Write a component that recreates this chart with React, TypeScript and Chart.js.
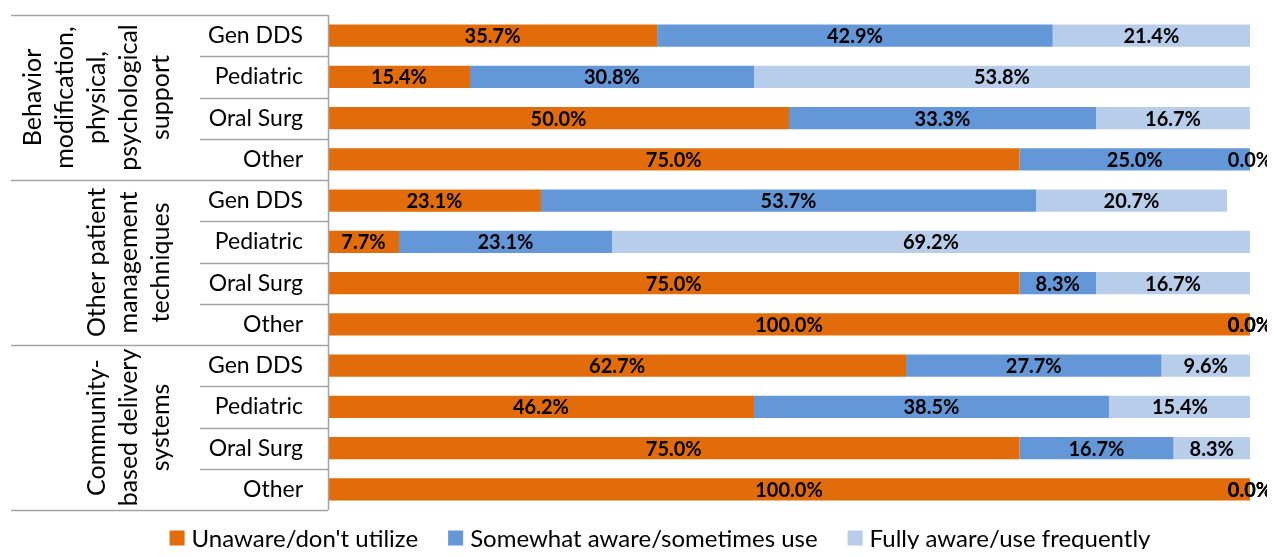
import React, { useEffect, useRef } from "react";
import { Chart, registerables } from "chart.js";

Chart.register(...registerables);

const groupNames: string[][] = [
  ["Behavior", "modification,", "physical,", "psychological", "support"],
  ["Other patient", "management", "techniques"],
  ["Community-", "based delivery", "systems"],
];
const subCategories = ["Gen DDS", "Pediatric", "Oral Surg", "Other"];
const categories: string[] = [
  ...subCategories,
  ...subCategories,
  ...subCategories,
];

const seriesNames = [
  "Unaware/don't utilize",
  "Somewhat aware/sometimes use",
  "Fully aware/use frequently",
];
const unaware = [35.7, 15.4, 50.0, 75.0, 23.1, 7.7, 75.0, 100.0, 62.7, 46.2, 75.0, 100.0];
const somewhat = [42.9, 30.8, 33.3, 25.0, 53.7, 23.1, 8.3, 0.0, 27.7, 38.5, 16.7, 0.0];
const fully = [21.4, 53.8, 16.7, 0.0, 20.7, 69.2, 16.7, 0.0, 9.6, 15.4, 8.3, 0.0];
const colors = ["#E36C0A", "#6397D8", "#B7CDEA"];

const FONT = "Lato, 'Open Sans', sans-serif";
const LINE = "#a3a3a3";

const overlay = {
  id: "overlay",
  afterDatasetsDraw(chart: any) {
    const ctx = chart.ctx;
    const area = chart.chartArea;
    const ys = chart.scales.y;
    ctx.save();
    // data labels
    ctx.font = `bold 20px ${FONT}`;
    ctx.fillStyle = "#000";
    ctx.textAlign = "center";
    ctx.textBaseline = "middle";
    chart.data.datasets.forEach((ds: any, di: number) => {
      const meta = chart.getDatasetMeta(di);
      meta.data.forEach((el: any, i: number) => {
        const v = ds.data[i];
        const p = el.getProps(["x", "y", "base"], true);
        const cx = (p.x + p.base) / 2;
        ctx.fillText(v.toFixed(1) + "%", cx, p.y + 1);
      });
    });

    // separator lines and axis line
    ctx.strokeStyle = LINE;
    ctx.lineWidth = 1.5;
    const n = categories.length;
    const boundary = (k: number) => {
      if (k === 0) return area.top;
      if (k === n) return area.bottom;
      return (ys.getPixelForValue(k - 1) + ys.getPixelForValue(k)) / 2;
    };
    for (let k = 0; k <= n; k++) {
      const y = Math.round(boundary(k)) + 0.5;
      const isGroup = k % subCategories.length === 0;
      ctx.beginPath();
      ctx.moveTo(isGroup ? 3 : 192, y);
      ctx.lineTo(area.left, y);
      ctx.stroke();
    }
    ctx.beginPath();
    ctx.moveTo(area.left + 0.5, area.top);
    ctx.lineTo(area.left + 0.5, area.bottom);
    ctx.stroke();

    // group labels
    ctx.fillStyle = "#000";
    ctx.font = `25px ${FONT}`;
    groupNames.forEach((lines, g) => {
      const y0 = boundary(g * subCategories.length);
      const y1 = boundary((g + 1) * subCategories.length);
      const yc = (y0 + y1) / 2;
      const lastX = 153;
      lines.forEach((line, i) => {
        const x = lastX - (lines.length - 1 - i) * 32;
        ctx.save();
        ctx.translate(x, yc);
        ctx.rotate(-Math.PI / 2);
        ctx.textAlign = "center";
        ctx.textBaseline = "middle";
        ctx.fillText(line, 0, 0);
        ctx.restore();
      });
    });

    // legend
    ctx.font = `24px ${FONT}`;
    ctx.textAlign = "left";
    ctx.textBaseline = "middle";
    const box = 15;
    const gapBoxText = 7;
    const itemGap = 30;
    const widths = seriesNames.map((s) => ctx.measureText(s).width);
    const total =
      widths.reduce((a, b) => a + b, 0) +
      seriesNames.length * (box + gapBoxText) +
      (seriesNames.length - 1) * itemGap;
    let x = 652 - total / 2;
    const ly = 530;
    seriesNames.forEach((s, i) => {
      ctx.fillStyle = colors[i];
      ctx.fillRect(x, ly - box / 2, box, box);
      ctx.fillStyle = "#000";
      ctx.fillText(s, x + box + gapBoxText, ly + 1);
      x += box + gapBoxText + widths[i] + itemGap;
    });
    ctx.restore();
  },
};

export default function App() {
  const ref = useRef<HTMLCanvasElement>(null);
  useEffect(() => {
    if (!ref.current) return;
    const chart = new Chart(ref.current, {
      type: "bar",
      data: {
        labels: categories,
        datasets: [unaware, somewhat, fully].map((d, i) => ({
          label: seriesNames[i],
          data: d,
          backgroundColor: colors[i],
          borderWidth: 0,
          categoryPercentage: 1,
          barPercentage: 0.535,
        })),
      },
      options: {
        indexAxis: "y",
        animation: false,
        responsive: true,
        maintainAspectRatio: false,
        layout: { padding: { top: 7, bottom: 39, right: 17, left: 0 } },
        plugins: { legend: { display: false }, tooltip: { enabled: false } },
        scales: {
          x: { stacked: true, min: 0, max: 100, display: false },
          y: {
            stacked: true,
            grid: { display: false, drawTicks: false },
            border: { display: false },
            ticks: {
              color: "#000",
              font: { family: FONT, size: 23 },
              padding: 25,
            },
            afterFit: (scale: any) => {
              scale.width = 320;
              scale.paddingTop = 0;
              scale.paddingBottom = 0;
            },
          },
        },
      },
      plugins: [overlay],
    });
    return () => chart.destroy();
  }, []);
  return (
    <div style={{ width: "100%", height: 541, position: "relative" }}>
      <canvas ref={ref} />
    </div>
  );
}
